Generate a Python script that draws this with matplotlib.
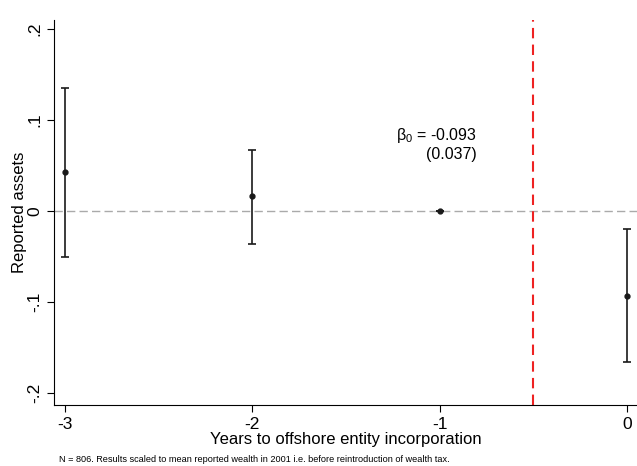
import matplotlib
matplotlib.use('Agg')
import matplotlib.pyplot as plt

plt.rcParams['font.family'] = ['Liberation Sans', 'DejaVu Sans']
plt.rcParams['axes.unicode_minus'] = False
plt.rcParams['mathtext.fontset'] = 'custom'
plt.rcParams['mathtext.rm'] = 'Liberation Sans'

# event-time estimates
years = [-3, -2, -1, 0]
coef = [0.043, 0.0165, 0.0, -0.093]
ci_low = [-0.0505, -0.036, 0.0, -0.166]
ci_high = [0.135, 0.067, 0.0, -0.020]

yticks = [-0.2, -0.1, 0, 0.1, 0.2]
yticklabels = ['-.2', '-.1', '0', '.1', '.2']
xticks = [-3, -2, -1, 0]
xticklabels = ['-3', '-2', '-1', '0']

fig = plt.figure(figsize=(6.37, 4.66), dpi=100)
ax = fig.add_axes([0.0848, 0.131, 0.9152, 0.826])

err_lo = [c - l for c, l in zip(coef, ci_low)]
err_hi = [h - c for c, h in zip(coef, ci_high)]
ax.errorbar(years, coef, yerr=[err_lo, err_hi], fmt='o', color='#1a1a1a',
            ms=3.5, capsize=3, elinewidth=1.2, capthick=1.2, zorder=3)

ax.axhline(0, color='#aaaaaa', ls=(0, (6, 3)), lw=1, zorder=1)
ax.axvline(-0.5, color='#ee2222', ls=(0, (5, 3)), lw=1.5, zorder=2)

ax.text(-0.80, 0.083, r'$\mathregular{\beta_0}$ = -0.093', fontsize=11.5, ha='right', va='center')
ax.text(-0.80, 0.062, '(0.037)', fontsize=11.5, ha='right', va='center')

ax.set_xlim(-3.059, 0.053)
ax.set_ylim(-0.213, 0.21)
ax.set_xticks(xticks)
ax.set_xticklabels(xticklabels)
ax.set_yticks(yticks)
ax.set_yticklabels(yticklabels, rotation=90, va='center')
ax.tick_params(labelsize=12.5, length=5)
ax.spines['top'].set_visible(False)
ax.spines['right'].set_visible(False)

ax.set_ylabel('Reported assets', fontsize=12, labelpad=0)
ax.set_xlabel('Years to offshore entity incorporation', fontsize=12, labelpad=0)

fig.text(0.093, 0.008, 'N = 806. Results scaled to mean reported wealth in 2001 i.e. before reintroduction of wealth tax.',
         fontsize=6.6)

fig.savefig('out.png', dpi=100, facecolor='white')
